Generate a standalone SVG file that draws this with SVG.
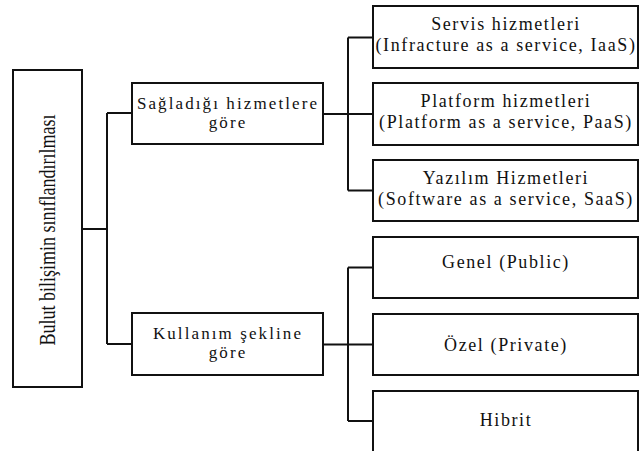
<svg xmlns="http://www.w3.org/2000/svg" width="639" height="451" viewBox="0 0 639 451">
<style>
.box{fill:#fff;stroke:#111;stroke-width:2}
.conn{fill:none;stroke:#111;stroke-width:2}
.t{font-family:"Liberation Serif","Times New Roman",serif;font-size:18px;letter-spacing:1.6px;fill:#111;text-anchor:middle}
.s{font-family:"Liberation Serif","Times New Roman",serif;font-size:17px;letter-spacing:2.1px;fill:#111;text-anchor:middle}
.r{font-family:"Liberation Serif","Times New Roman",serif;font-size:18px;fill:#111;text-anchor:middle}
</style>
<rect width="639" height="451" fill="#fff"/>
<g id="connectors">
<path class="conn" d="M82,229 H107 M107,113 V344 M107,113 H132 M107,344 H132"/>
<path class="conn" d="M323,114 H373 M348,37.5 V190.5 M348,37.5 H373 M348,190.5 H373"/>
<path class="conn" d="M323,344.5 H373 M348,267.5 V421 M348,267.5 H373 M348,421 H373"/>
</g>
<g id="root">
<rect class="box" x="13" y="70" width="69" height="317"/>
<text class="r" transform="translate(55,230) rotate(-90) scale(1,1.28)">Bulut bilişimin sınıflandırılması</text>
</g>
<g id="saglanan">
<rect class="box" x="132" y="83" width="191" height="61"/>
<text class="s" x="228" y="108.5">Sağladığı hizmetlere</text>
<text class="s" x="228" y="127.5">göre</text>
</g>
<g id="kullanim">
<rect class="box" x="132" y="313" width="191" height="62"/>
<text class="s" x="228" y="339">Kullanım şekline</text>
<text class="s" x="228" y="358">göre</text>
</g>
<g id="iaas">
<rect class="box" x="373" y="6" width="265" height="62"/>
<text class="t" x="506" y="29.5">Servis hizmetleri</text>
<text class="t" x="506" y="51">(Infracture as a service, IaaS)</text>
</g>
<g id="paas">
<rect class="box" x="373" y="83" width="265" height="62"/>
<text class="t" x="506" y="106.5">Platform hizmetleri</text>
<text class="t" x="506" y="128">(Platform as a service, PaaS)</text>
</g>
<g id="saas">
<rect class="box" x="373" y="160" width="265" height="61"/>
<text class="t" x="506" y="183.5">Yazılım Hizmetleri</text>
<text class="t" x="506" y="205">(Software as a service, SaaS)</text>
</g>
<g id="genel">
<rect class="box" x="373" y="237" width="265" height="61"/>
<text class="t" x="506" y="267.5">Genel (Public)</text>
</g>
<g id="ozel">
<rect class="box" x="373" y="314" width="265" height="61"/>
<text class="t" x="506" y="351">Özel (Private)</text>
</g>
<g id="hibrit">
<rect class="box" x="373" y="391" width="265" height="64"/>
<text class="t" x="506" y="426">Hibrit</text>
</g>
</svg>
